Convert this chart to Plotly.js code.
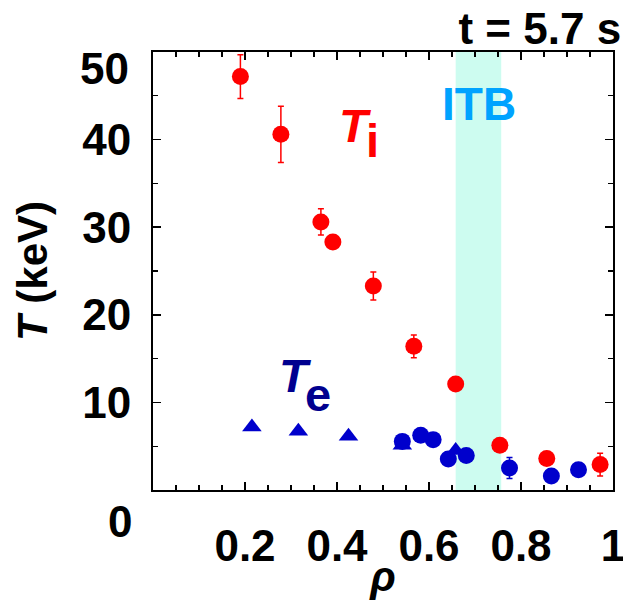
<!DOCTYPE html>
<html>
<head>
<meta charset="utf-8">
<script src="https://cdn.plot.ly/plotly-3.0.1.min.js"></script>
<style>html,body{margin:0;padding:0;background:#fff;}#chart{width:623px;height:600px;}</style>
</head>
<body>
<div id="chart"></div>
<script>
// Ion temperature (red circles)
const tiRho = [0.190, 0.278, 0.365, 0.391, 0.479, 0.567, 0.658, 0.754, 0.856, 0.972];
const tiVal = [47.2, 40.6, 30.6, 28.3, 23.3, 16.4, 12.1, 5.1, 3.6, 2.9];
const tiErr = [2.5, 3.2, 1.5, 0, 1.6, 1.3, 0, 0, 0, 1.3];
// Electron temperature (blue circles)
const teRho = [0.542, 0.582, 0.609, 0.642, 0.681, 0.775, 0.866, 0.925];
const teVal = [5.55, 6.25, 5.75, 3.55, 3.95, 2.5, 1.6, 2.3];
const teErr = [0, 0, 0, 0, 0, 1.2, 0, 0];
// Electron temperature (blue triangles)
const teTriRho = [0.215, 0.316, 0.425, 0.542, 0.658];
const teTriVal = [7.2, 6.7, 6.15, 5.1, 4.5];
// ITB region
const itbRange = [0.658, 0.757];
// Tick labels
const xTickVals = [0.2, 0.4, 0.6, 0.8, 1];
const xTickText = ['0.2', '0.4', '0.6', '0.8', '1'];
const yTickVals = [10, 20, 30, 40];
const yTickText = ['10', '20', '30', '40'];

const FONT = '"Liberation Sans", Arial, sans-serif';
const red = '#ff0000', blue = '#0000cc', navy = '#00008f', cyan = '#00a3ff';

const traces = [
  {x: teTriRho, y: teTriVal, type: 'scatter', mode: 'markers',
   marker: {symbol: 'triangle-up', size: 17, color: blue}, hoverinfo: 'skip', cliponaxis: false},
  {x: teRho, y: teVal, type: 'scatter', mode: 'markers',
   marker: {symbol: 'circle', size: 17, color: blue},
   error_y: {type: 'data', array: teErr, visible: true, color: blue, thickness: 1.5, width: 3},
   cliponaxis: false},
  {x: tiRho, y: tiVal, type: 'scatter', mode: 'markers',
   marker: {symbol: 'circle', size: 17, color: red},
   error_y: {type: 'data', array: tiErr, visible: true, color: red, thickness: 1.5, width: 3},
   cliponaxis: false}
];

const bold = {family: FONT, weight: 'bold'};
const layout = {
  width: 623, height: 600,
  margin: {l: 153, r: 9.5, t: 52, b: 110},
  paper_bgcolor: '#fff', plot_bgcolor: '#fff',
  showlegend: false,
  title: {text: 't = 5.7 s', font: Object.assign({size: 44, color: '#000'}, bold),
          x: 0.997, xanchor: 'right', xref: 'container', y: 0.953, yanchor: 'middle', yref: 'container'},
  xaxis: {
    range: [0, 1], showgrid: false, zeroline: false,
    showline: true, linecolor: '#000', linewidth: 2, mirror: 'ticks',
    ticks: 'inside', ticklen: 8, tickwidth: 1.5, tickcolor: '#000',
    tickvals: xTickVals, ticktext: xTickText,
    tickfont: Object.assign({size: 44, color: '#000'}, bold),
    ticklabelstandoff: 16, ticklabeloverflow: 'allow',
    minor: {dtick: 0.05, tick0: 0, ticks: 'inside', ticklen: 5, tickwidth: 1.2, tickcolor: '#000', showgrid: false},
    title: {text: '<i>ρ</i>', font: Object.assign({size: 42, color: '#000'}, bold), standoff: 14}
  },
  yaxis: {
    range: [0, 50], showgrid: false, zeroline: false,
    showline: true, linecolor: '#000', linewidth: 2, mirror: 'ticks',
    ticks: 'inside', ticklen: 8, tickwidth: 1.5, tickcolor: '#000',
    tickvals: yTickVals, ticktext: yTickText,
    tickfont: Object.assign({size: 44, color: '#000'}, bold),
    ticklabelstandoff: 11,
    minor: {dtick: 5, tick0: 0, ticks: 'inside', ticklen: 5, tickwidth: 1.2, tickcolor: '#000', showgrid: false},
    title: {text: '<i>T</i> (keV)', font: Object.assign({size: 42, color: '#000'}, bold), standoff: 22}
  },
  shapes: [{type: 'rect', xref: 'x', yref: 'paper', x0: itbRange[0], x1: itbRange[1], y0: 0, y1: 1,
            fillcolor: '#cdfcf0', line: {width: 0}, layer: 'below'}],
  annotations: [
    {text: '50', xref: 'paper', x: -0.048, xanchor: 'right', yref: 'paper', y: 0.963, yanchor: 'middle', showarrow: false,
     font: Object.assign({size: 44, color: '#000'}, bold)},
    {text: '0', xref: 'paper', x: -0.041, xanchor: 'right', yref: 'paper', y: -0.072, yanchor: 'middle', showarrow: false,
     font: Object.assign({size: 44, color: '#000'}, bold)},
    {text: 'ITB', xref: 'x', x: 0.7097, yref: 'y', y: 44.1, xanchor: 'center', yanchor: 'middle', showarrow: false,
     font: Object.assign({size: 46, color: cyan}, bold)},
    {text: '<i>T</i>', xref: 'x', x: 0.441, yref: 'y', y: 41.6, xanchor: 'center', yanchor: 'middle', showarrow: false,
     font: Object.assign({size: 47, color: red}, bold)},
    {text: 'i', xref: 'x', x: 0.477, yref: 'y', y: 39.9, xanchor: 'center', yanchor: 'middle', showarrow: false,
     font: Object.assign({size: 47, color: red}, bold)},
    {text: '<i>T</i>', xref: 'x', x: 0.3105, yref: 'y', y: 13.1, xanchor: 'center', yanchor: 'middle', showarrow: false,
     font: Object.assign({size: 47, color: navy}, bold)},
    {text: 'e', xref: 'x', x: 0.358, yref: 'y', y: 10.9, xanchor: 'center', yanchor: 'middle', showarrow: false,
     font: Object.assign({size: 47, color: navy}, bold)}
  ]
};

Plotly.newPlot('chart', traces, layout, {displayModeBar: false, staticPlot: true});
</script>
</body>
</html>
